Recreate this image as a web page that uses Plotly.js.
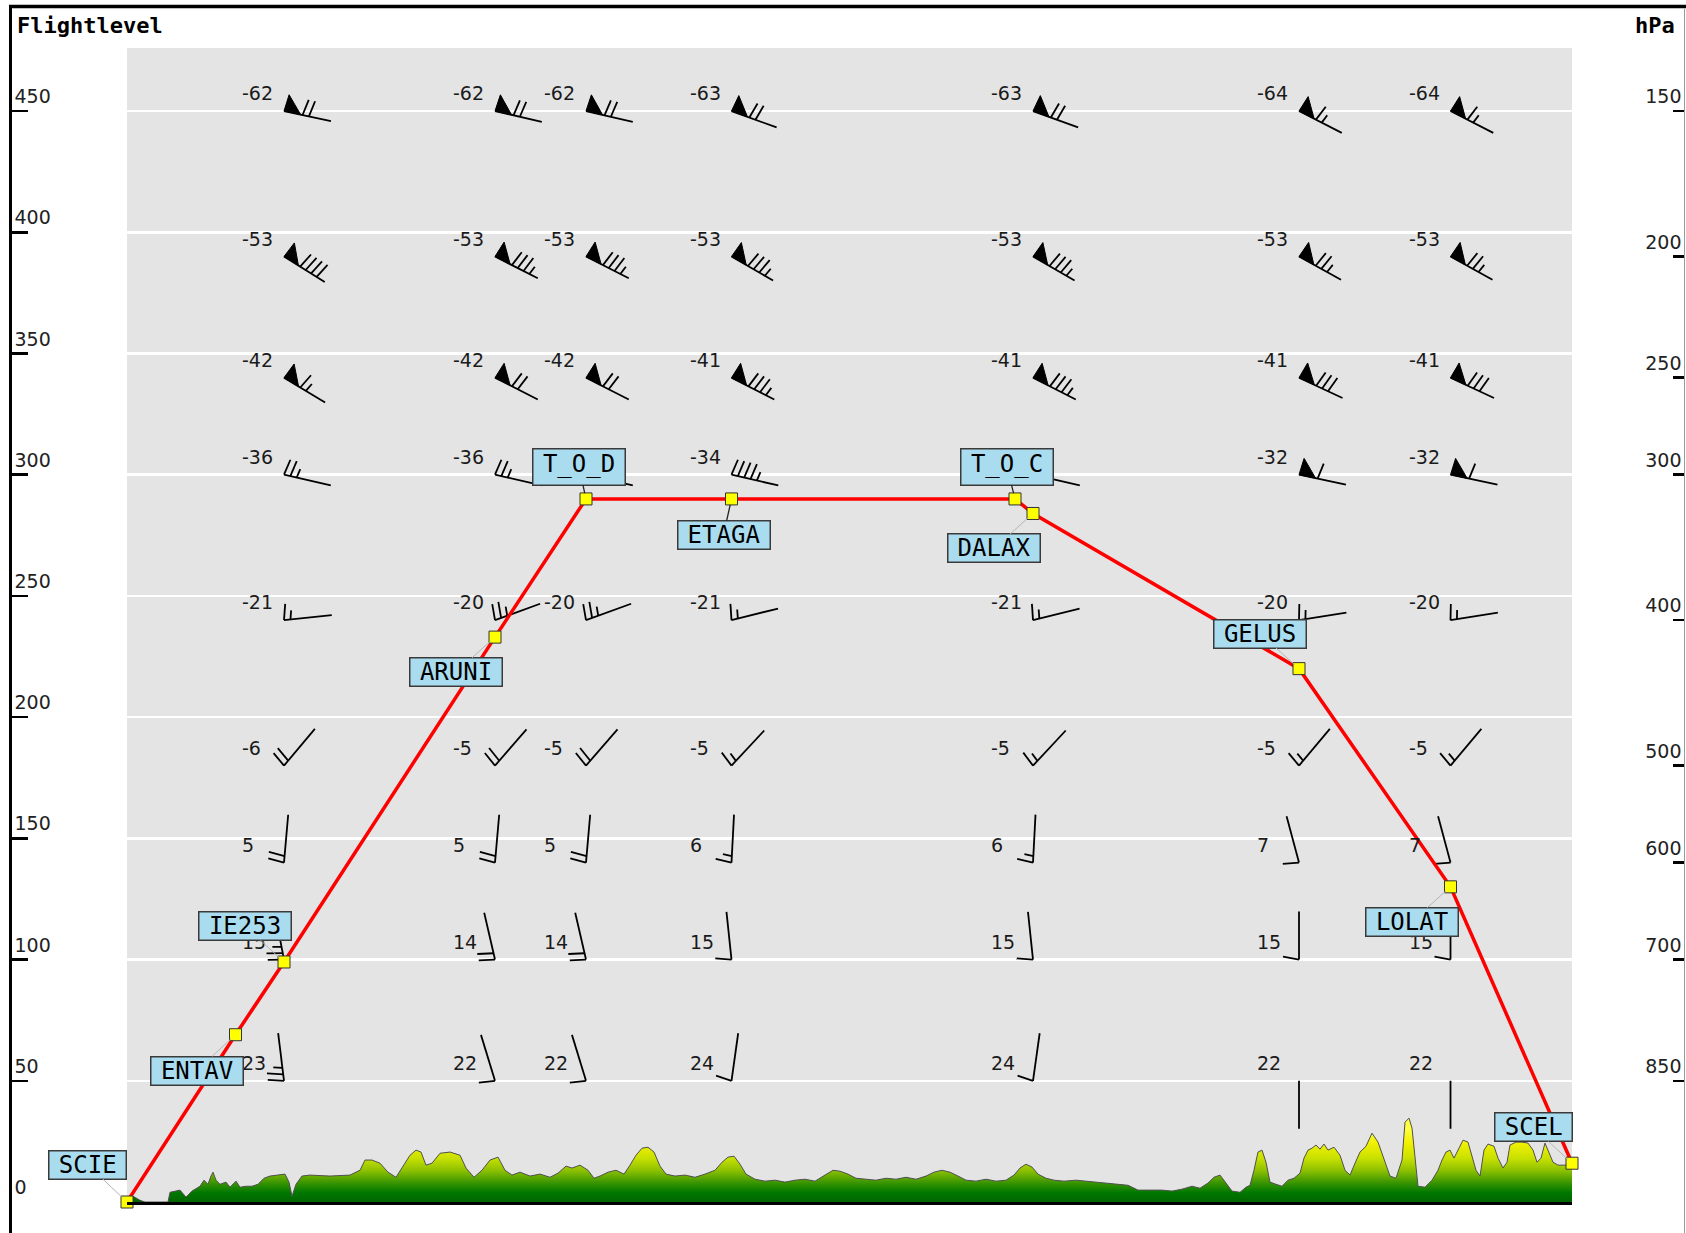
<!DOCTYPE html>
<html><head><meta charset="utf-8">
<script src="https://cdn.plot.ly/plotly-3.0.1.min.js"></script>
<style>html,body{margin:0;padding:0;background:#fff}</style>
</head><body><div id="chart" style="width:1686px;height:1233px"></div>
<script>
// ---------------- DATA ----------------
// Route waypoints: distance along route (NM) and flight level
const wptNames = ['SCIE','ENTAV','IE253','ARUNI','T_O_D','ETAGA','T_O_C','DALAX','GELUS','LOLAT','SCEL'];
const wptDist  = [0, 21.7, 31.4, 73.6, 91.8, 120.9, 177.6, 181.2, 234.4, 264.7, 289];
const wptFL    = [0, 69, 99, 233, 290, 290, 290, 284, 220, 130, 16];

// Left axis (flight level) ticks
const flTicks = [0, 50, 100, 150, 200, 250, 300, 350, 400, 450];
// Right axis: pressure levels (hPa) and the flight level they are drawn at
const pressureLevels = [150, 200, 250, 300, 400, 500, 600, 700, 850];
const pressureFL     = [450, 390, 340, 300, 240, 180, 140, 100, 50];

// Wind/temperature columns (at these waypoints)
const windCols = ['IE253','ARUNI','T_O_D','ETAGA','DALAX','GELUS','LOLAT'];
// rows follow pressureLevels, columns follow windCols (null = hidden under a label in the source)
const windTemp = [
  [-62,-62,-62,-63,-63,-64,-64],
  [-53,-53,-53,-53,-53,-53,-53],
  [-42,-42,-42,-41,-41,-41,-41],
  [-36,-36,null,-34,null,-32,-32],
  [-21,-20,-20,-21,-21,-20,-20],
  [-6,-5,-5,-5,-5,-5,-5],
  [5,5,5,6,6,7,7],
  [15,14,14,15,15,15,15],
  [23,22,22,24,24,22,22]
];
// wind direction (deg, from)
const windDir = [
  [282,283,283,290,290,297,297],
  [302,297,297,300,300,299,299],
  [301,297,297,297,297,295,295],
  [283,283,283,283,283,282,282],
  [264,250,250,256,256,261,261],
  [220,221,221,223,223,220,220],
  [185,185,185,183,183,165,165],
  [169,167,167,174,174,180,180],
  [173,163,163,188,188,0,0]
];
// wind speed (kt)
const windSpd = [
  [70,70,70,70,70,65,65],
  [90,85,85,85,85,75,75],
  [65,70,70,85,85,80,80],
  [25,25,35,45,50,60,60],
  [15,25,25,15,15,15,15],
  [20,20,20,15,15,15,15],
  [20,20,20,15,15,10,10],
  [25,20,20,10,10,10,10],
  [25,10,10,10,10,0,0]
];

// Terrain profile: distance (NM), elevation (FL = hundreds of ft)
const terrainDist = [0,1.2,2.6,3.6,8.2,8.6,10.6,11.8,13.0,14.6,15.4,16.2,16.8,17.2,17.8,18.6,19.8,20.6,21.8,22.6,23.8,25.0,26.2,27.4,28.6,30.2,31.6,32.4,33.0,33.8,35.0,36.6,40.6,44.6,46.6,47.6,49.0,50.6,52.2,53.8,55.4,56.6,57.8,58.8,59.8,61.0,62.6,64.6,66.6,67.8,69.4,71.0,72.6,74.2,75.6,77.0,78.6,80.6,82.6,84.6,86.2,87.8,89.0,90.6,92.2,93.4,94.6,96.2,97.8,99.4,100.6,101.8,103.0,104.2,105.4,106.6,107.8,109.6,111.6,113.6,115.6,117.6,119.0,120.2,121.4,122.6,123.8,125.6,127.6,129.6,131.6,133.6,135.6,137.6,139.6,141.2,142.6,144.2,145.8,147.8,149.8,151.8,153.8,155.8,157.8,159.8,161.4,163.0,164.6,166.2,167.8,169.8,171.8,173.8,175.8,177.4,178.6,179.8,181.0,182.2,183.8,185.4,187.4,189.8,192.2,194.2,196.2,198.2,200.2,202.2,204.6,207.0,209.0,211.0,213.0,214.6,216.2,217.4,218.6,219.8,221.0,222.6,223.8,224.6,225.4,226.2,227.0,227.8,228.6,229.8,231.0,232.2,233.4,234.6,235.4,236.2,237.0,237.8,238.6,239.4,240.2,241.4,242.6,243.6,244.6,245.6,246.6,247.8,249.0,250.2,251.4,252.6,253.8,255.0,255.6,256.4,257.0,257.6,258.2,259.6,261.0,262.2,263.0,263.8,264.6,265.4,266.2,267.2,268.2,269.0,269.8,270.6,271.4,272.2,273.4,274.2,275.2,276.0,276.6,277.8,279.0,280.2,281.2,282.0,282.8,283.6,284.4,285.2,286.2,287.6,289.0];
const terrainFL = [1.2,2.4,0.7,0,0,4.0,4.9,2.0,4.5,6.5,9.0,7.3,10.7,12.3,9.0,7.3,8.2,6.1,8.6,6.1,6.5,6.5,7.3,9.8,10.7,11.1,11.5,8.2,2.4,7.3,10.7,11.1,10.7,11.1,13.1,17.3,17.3,16.0,12.3,10.2,15.2,19.3,21.4,20.6,15.2,16.0,20.1,20.6,19.3,14.0,10.2,13.1,17.3,18.5,13.1,11.1,12.3,10.7,11.5,10.2,11.9,14.8,14.0,15.2,13.1,9.8,10.7,12.3,13.1,11.5,15.2,19.3,22.2,22.6,20.6,14.8,11.5,10.7,11.1,10.2,11.5,13.1,16.4,18.5,18.9,15.6,11.5,9.4,8.6,9.0,8.2,9.0,9.4,8.6,11.1,13.1,12.7,11.5,9.8,9.4,9.0,9.8,9.4,10.2,9.4,10.7,12.3,13.1,12.3,10.7,9.0,8.6,9.4,8.6,9.0,11.1,14.0,15.6,14.4,11.5,9.8,9.0,8.6,9.0,8.6,8.2,7.8,7.3,6.9,4.9,4.9,4.9,4.5,5.3,6.5,5.7,7.8,10.2,11.1,7.8,4.5,4.0,6.1,6.9,13.1,20.6,21.4,16.4,8.2,7.3,6.5,9.0,9.8,11.9,18.1,21.4,22.2,23.5,21.8,23.9,21.4,22.6,19.3,13.1,11.1,16.0,20.6,23.0,28.4,24.7,17.3,10.7,9.8,17.3,32.9,34.6,30.5,17.3,6.5,6.1,9.0,13.1,17.3,20.6,21.4,18.1,21.4,25.5,24.7,19.3,13.1,10.7,21.4,23.9,23.0,18.1,14.0,16.4,23.5,24.7,24.7,24.3,21.4,16.4,18.1,24.3,20.6,16.4,15.2,15.2,15.2];

// ---------------- LAYOUT CONSTANTS ----------------
const W = 1686, H = 1233;
const M = {l:0, r:0, t:48, b:31, pad:0};
const xDom = [127/W, 1572/W];
const xRange = [0, 289], yRange = [0, 476];
const pxPerX = W*(xDom[1]-xDom[0])/(xRange[1]-xRange[0]);
const pxPerY = (H-M.t-M.b)/(yRange[1]-yRange[0]);

// barb glyph geometry (px)
const STAFF = 48, FLAG_H = 17, FLAG_W = 17, LONG = 16, SHORT = 9, GAP = 6.5, LEAN = 0.18;

const barbX = [], barbY = [], flagX = [], flagY = [];
function addBarb(sx, sy, fromDir, spd){
  const b = (fromDir + 180) * Math.PI/180;
  const ux = Math.sin(b), uy = Math.cos(b);
  const qx = -uy, qy = ux;
  const P = (a, c) => [sx + (a*ux + c*qx)/pxPerX, sy + (a*uy + c*qy)/pxPerY];
  const seg = (p1, p2) => { barbX.push(p1[0], p2[0], null); barbY.push(p1[1], p2[1], null); };
  seg(P(0,0), P(STAFF,0));
  let s = Math.round(spd/5)*5, pos = 0;
  while (s >= 50) {
    const a = P(pos,0), c = P(pos+1.6, FLAG_H), d = P(pos+FLAG_W, 0);
    flagX.push(a[0], c[0], d[0], a[0], null); flagY.push(a[1], c[1], d[1], a[1], null);
    pos += FLAG_W + 2; s -= 50;
  }
  while (s >= 10) { seg(P(pos,0), P(pos + LONG*LEAN, LONG)); pos += GAP; s -= 10; }
  if (s >= 5) { seg(P(pos,0), P(pos + SHORT*LEAN, SHORT)); }
}

const annotations = [];
pressureFL.forEach((fl, r) => {
  windCols.forEach((name, c) => {
    const x = wptDist[wptNames.indexOf(name)];
    addBarb(x, fl, windDir[r][c], windSpd[r][c]);
    if (windTemp[r][c] === null) return;
    annotations.push({x: x, y: fl, xref:'x', yref:'y', text: String(windTemp[r][c]),
      showarrow:false, xanchor:'left', yanchor:'middle', xshift:-44, yshift:18,
      font:{family:'DejaVu Sans', size:19, color:'#1a1a1a'}});
  });
});

// waypoint label placement (pixel offsets of the box centre)
const lblDx = [-39,-39,-39,-39,-7,-8,-8,-39,-39,-39,-39];
const lblDy = [-37, 36,-36, 35,-32,36,-32, 35,-35, 35,-36];
wptNames.forEach((n, i) => {
  const tall = n.indexOf('_') >= 0;
  const dark = (n === 'T_O_D' || n === 'T_O_C' || n === 'ETAGA');
  annotations.push({x: wptDist[i], y: wptFL[i], xref:'x', yref:'y', text: n,
    showarrow:true, ax: lblDx[i], ay: lblDy[i], axref:'pixel', ayref:'pixel',
    arrowhead:0, arrowwidth: dark ? 1.3 : 1, arrowcolor: dark ? '#222' : '#b5b5b5', standoff:6,
    bgcolor:'#aadcf0', bordercolor:'#3a3a3a', borderwidth:1.5, borderpad:0,
    width: n.length*14.6+18, height: tall ? 35 : 27, valign: tall ? 'top' : 'middle',
    font:{family:'DejaVu Sans Mono', size:24, color:'#000'}});
});

annotations.push({xref:'paper', yref:'paper', x:15/W, y:(1202-26)/1154, xanchor:'left', yanchor:'middle',
  text:'<b>Flightlevel</b>', showarrow:false, font:{family:'DejaVu Sans Mono', size:22, color:'#000'}});
annotations.push({xref:'paper', yref:'paper', x:1677/W, y:(1202-26)/1154, xanchor:'right', yanchor:'middle',
  text:'<b>hPa</b>', showarrow:false, font:{family:'DejaVu Sans Mono', size:22, color:'#000'}});

const py = v => (1202 - v)/1154;
const shapes = [
  {type:'line', xref:'paper', yref:'paper', x0:9/W, x1:1, y0:py(6.5), y1:py(6.5), line:{color:'#000', width:3.5}},
  {type:'line', xref:'paper', yref:'paper', x0:10.5/W, x1:10.5/W, y0:py(5), y1:py(1233), line:{color:'#000', width:3}},
  {type:'line', xref:'paper', yref:'paper', x0:1684.5/W, x1:1684.5/W, y0:py(9), y1:py(1233), line:{color:'#9a9a9a', width:1}}
];

const traces = [
  {x: terrainDist, y: terrainFL, type:'scatter', mode:'lines', fill:'tozeroy',
   line:{color:'#505050', width:1},
   fillgradient:{type:'vertical', start:0, stop:30,
     colorscale:[[0,'#006400'],[0.13,'#007800'],[0.27,'#3c9600'],[0.43,'#8cc000'],[0.6,'#c8e000'],[0.8,'#f0f000'],[1,'#ffff40']]},
   hoverinfo:'skip', showlegend:false},
  {x: barbX, y: barbY, type:'scatter', mode:'lines', line:{color:'#000', width:1.8},
   hoverinfo:'skip', showlegend:false},
  {x: flagX, y: flagY, type:'scatter', mode:'lines', fill:'toself', fillcolor:'#000',
   line:{color:'#000', width:1}, hoverinfo:'skip', showlegend:false},
  {x: wptDist, y: wptFL, type:'scatter', mode:'lines', line:{color:'#ff0000', width:3.5},
   cliponaxis:false, hoverinfo:'skip', showlegend:false},
  {x: wptDist, y: wptFL, type:'scatter', mode:'markers', cliponaxis:false,
   marker:{symbol:'square', size:12, color:'#ffff00', line:{color:'#333', width:1}},
   hoverinfo:'skip', showlegend:false},
  {x: [xRange[0]], y: [pressureFL[0]], yaxis:'y2', type:'scatter', mode:'markers',
   marker:{opacity:0}, hoverinfo:'skip', showlegend:false}
];

const layout = {
  width: W, height: H, margin: M,
  paper_bgcolor:'#ffffff', plot_bgcolor:'#e4e4e4',
  showlegend:false, hovermode:false,
  xaxis:{domain:xDom, range:xRange, showticklabels:false, ticks:'', showgrid:false, zeroline:false,
         showline:true, linecolor:'#000', linewidth:3, fixedrange:true},
  yaxis:{range:yRange, anchor:'free', position:10.5/W, side:'left',
         tickvals: flTicks, ticktext: flTicks.map(String),
         ticks:'inside', ticklen:16, tickwidth:2.5, tickcolor:'#000',
         ticklabelposition:'inside top', ticklabeloverflow:'allow',
         tickfont:{family:'DejaVu Sans', size:19, color:'#222'},
         showline:false, showgrid:true, gridcolor:'#ffffff', gridwidth:2.5, zeroline:false, fixedrange:true},
  yaxis2:{range:yRange, overlaying:'y', anchor:'free', position:1684.5/W, side:'right',
         tickvals: pressureFL, ticktext: pressureLevels.map(String),
         ticks:'inside', ticklen:12, tickwidth:2.5, tickcolor:'#000',
         ticklabelposition:'inside top', ticklabeloverflow:'allow',
         tickfont:{family:'DejaVu Sans', size:19, color:'#222'},
         showline:false, showgrid:false, zeroline:false, fixedrange:true},
  shapes: shapes,
  annotations: annotations
};

Plotly.newPlot('chart', traces, layout, {displayModeBar:false, staticPlot:true});
</script>
</body></html>
